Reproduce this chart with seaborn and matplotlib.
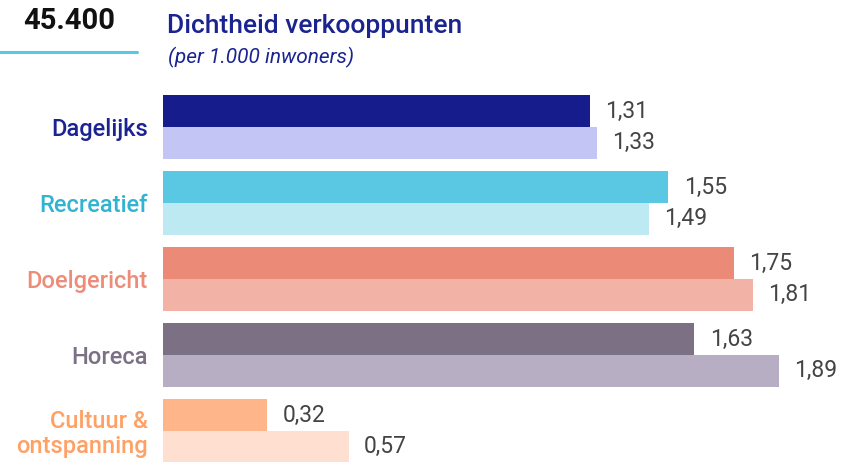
import matplotlib
matplotlib.use("Agg")
import matplotlib.pyplot as plt
import seaborn as sns
import pandas as pd

categories = ["Dagelijks", "Recreatief", "Doelgericht", "Horeca", "Cultuur &\nontspanning"]
series_a = [1.31, 1.55, 1.75, 1.63, 0.32]
series_b = [1.33, 1.49, 1.81, 1.89, 0.57]
dark_colors = ["#161C8C", "#5BC8E3", "#EC8A78", "#7B7084", "#FFB58A"]
light_colors = ["#C3C5F5", "#BDE9F2", "#F3B2A6", "#B7AEC4", "#FFE0D0"]
label_colors = ["#1A2390", "#33B3D2", "#EE8C7A", "#7B7084", "#FFA065"]

sns.set_theme(style="white")
plt.rcParams['font.family'] = ['Roboto', 'DejaVu Sans']

df = pd.DataFrame({
    "cat": categories * 2,
    "val": series_a + series_b,
    "series": ["a"] * 5 + ["b"] * 5,
})

W, H = 843, 462
fig = plt.figure(figsize=(W / 100, H / 100), dpi=100)
ax = fig.add_axes([163 / W, 0, 1 - 163 / W, (462 - 80) / H])

sns.barplot(data=df, y="cat", x="val", hue="series", orient="h",
            width=0.84, gap=0, dodge=True, legend=False, ax=ax,
            saturation=1, err_kws={"linewidth": 0})

patches = ax.patches
for i, p in enumerate(patches[:5]):
    p.set_facecolor(dark_colors[i]); p.set_edgecolor("none")
for i, p in enumerate(patches[5:10]):
    p.set_facecolor(light_colors[i]); p.set_edgecolor("none")

for cont, vals in zip(ax.containers, [series_a, series_b]):
    ax.bar_label(cont, labels=[f"{v:.2f}".replace(".", ",") for v in vals],
                 padding=11, fontsize=16.5, color="#444444")

ax.set_xlim(0, (W - 163) / 326)
ax.set_ylim((462 - 127) / 76, (80 - 127) / 76)
ax.set_xlabel("")
ax.set_ylabel("")
ax.set_xticks([])
ax.tick_params(axis="y", length=0, pad=11)
ax.set_yticks(range(5))
ax.set_yticklabels(categories, fontsize=17, fontweight="medium", linespacing=1.1)
for t, c in zip(ax.get_yticklabels(), label_colors):
    t.set_color(c)
for s in ax.spines.values():
    s.set_visible(False)

fig.text(23 / W, 1 - 21 / H, "45.400", fontsize=21, fontweight="bold",
         color="#111111", va="center", ha="left")
fig.add_artist(plt.Line2D([0, 137 / W], [1 - 52 / H, 1 - 52 / H],
                          color="#5BC8E3", linewidth=2.2))
fig.text(167 / W, 1 - 26 / H, "Dichtheid verkooppunten", fontsize=19,
         fontweight="medium", color="#1A2390", va="center", ha="left")
fig.text(168 / W, 1 - 57 / H, "(per 1.000 inwoners)", fontsize=15,
         fontstyle="italic", color="#1A2390", va="center", ha="left")

fig.savefig("out.png", dpi=100)
